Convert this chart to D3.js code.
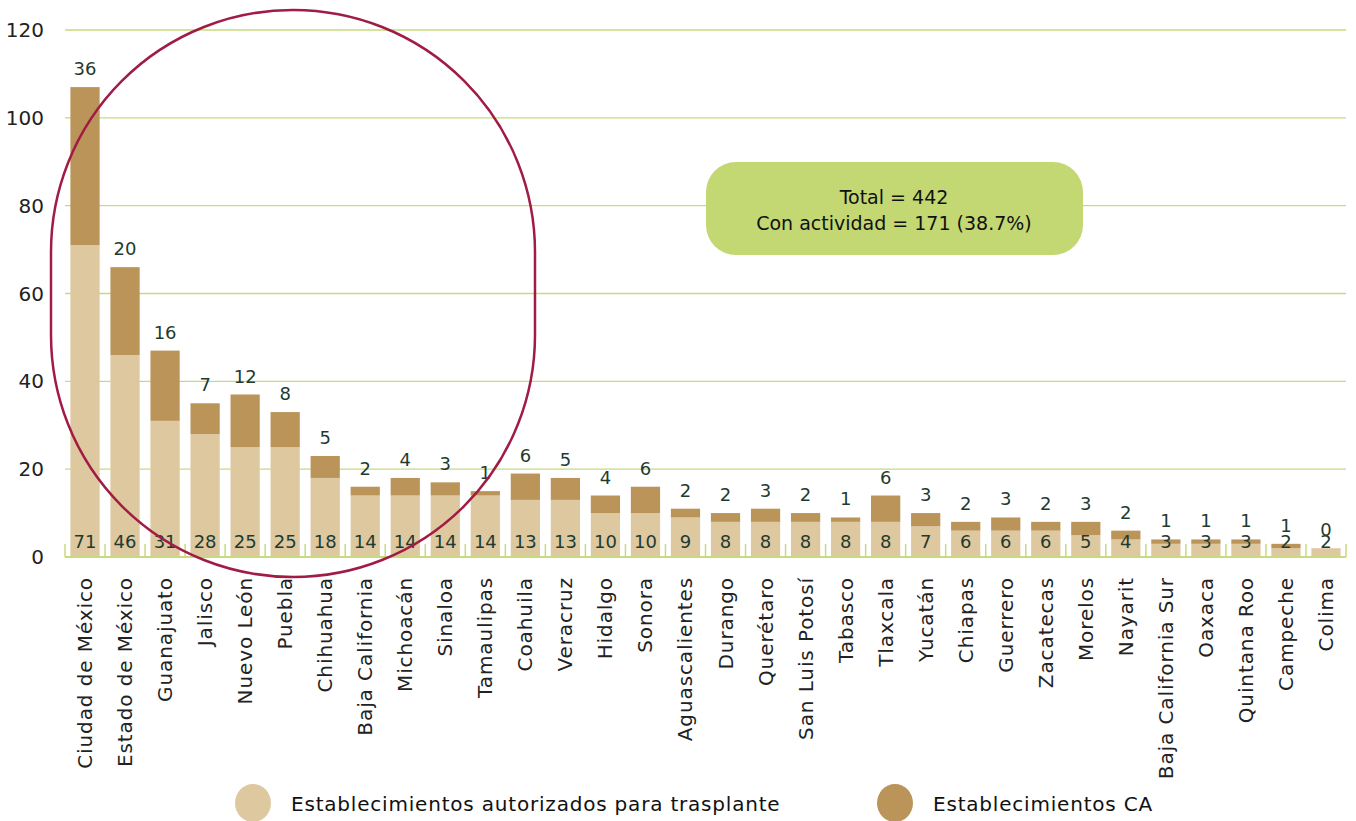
<!DOCTYPE html>
<html>
<head>
<meta charset="utf-8">
<script src="https://cdn.jsdelivr.net/npm/d3@7"></script>
<style>
  body { margin: 0; background: #fff; }
  text { font-family: "DejaVu Sans", "Open Sans", sans-serif; }
</style>
</head>
<body>
<div id="chart"></div>
<script>
// data
var estados = ["Ciudad de México", "Estado de México", "Guanajuato", "Jalisco", "Nuevo León", "Puebla",
  "Chihuahua", "Baja California", "Michoacán", "Sinaloa", "Tamaulipas", "Coahuila", "Veracruz", "Hidalgo",
  "Sonora", "Aguascalientes", "Durango", "Querétaro", "San Luis Potosí", "Tabasco", "Tlaxcala", "Yucatán",
  "Chiapas", "Guerrero", "Zacatecas", "Morelos", "Nayarit", "Baja California Sur", "Oaxaca", "Quintana Roo",
  "Campeche", "Colima"]
var autorizados = [71, 46, 31, 28, 25, 25, 18, 14, 14, 14, 14, 13, 13, 10, 10, 9, 8, 8, 8, 8, 8, 7, 6, 6, 6, 5, 4, 3, 3, 3, 2, 2]
var conCA = [36, 20, 16, 7, 12, 8, 5, 2, 4, 3, 1, 6, 5, 4, 6, 2, 2, 3, 2, 1, 6, 3, 2, 3, 2, 3, 2, 1, 1, 1, 1, 0]
var yTicks = [0, 20, 40, 60, 80, 100, 120]
var series = ["Establecimientos autorizados para trasplante", "Establecimientos CA"]
var notas = ["Total = 442", "Con actividad = 171 (38.7%)"]

var width = 1356
var height = 821
var colorClaro = "#dec8a0"
var colorOscuro = "#bb9459"
var verde = "#c8da7e"
var textoVerde = "#1f3b2f"

var svg = d3.select("#chart")
  .append("svg")
  .attr("width", width)
  .attr("height", height)

var x = d3.scaleBand()
  .domain(estados)
  .range([65, 1346])
  .paddingInner(0.27)
  .paddingOuter(0.135)

var y = d3.scaleLinear()
  .domain([0, 120])
  .range([557, 30])

// gridlines
svg.append("g")
  .selectAll("line")
  .data(yTicks.filter(function (d) { return d > 0 }))
  .enter()
  .append("line")
  .attr("x1", 65).attr("x2", 1346)
  .attr("y1", function (d) { return y(d) }).attr("y2", function (d) { return y(d) })
  .style("stroke", verde).style("stroke-width", 1.3)

// y tick labels
svg.append("g")
  .selectAll("text")
  .data(yTicks)
  .enter()
  .append("text")
  .attr("x", 44)
  .attr("y", function (d) { return y(d) })
  .attr("text-anchor", "end")
  .attr("dominant-baseline", "central")
  .style("font-size", "20px")
  .style("fill", "#222")
  .text(function (d) { return d })

// stacked bars
var barras = svg.append("g")
barras.selectAll("rect.claro")
  .data(estados)
  .enter()
  .append("rect")
  .attr("class", "claro")
  .attr("x", function (d) { return x(d) })
  .attr("width", x.bandwidth())
  .attr("y", function (d, i) { return y(autorizados[i]) })
  .attr("height", function (d, i) { return y(0) - y(autorizados[i]) })
  .style("fill", colorClaro)

barras.selectAll("rect.oscuro")
  .data(estados)
  .enter()
  .append("rect")
  .attr("class", "oscuro")
  .attr("x", function (d) { return x(d) })
  .attr("width", x.bandwidth())
  .attr("y", function (d, i) { return y(autorizados[i] + conCA[i]) })
  .attr("height", function (d, i) { return y(autorizados[i]) - y(autorizados[i] + conCA[i]) })
  .style("fill", colorOscuro)

// baseline and band ticks
svg.append("line")
  .attr("x1", 65).attr("x2", 1346)
  .attr("y1", y(0)).attr("y2", y(0))
  .style("stroke", verde).style("stroke-width", 2)

var bordes = estados.map(function (d) { return x(d) - x.step() * x.paddingInner() / 2 })
bordes.push(x(estados[estados.length - 1]) + x.bandwidth() + x.step() * x.paddingInner() / 2)
svg.append("g")
  .selectAll("line")
  .data(bordes)
  .enter()
  .append("line")
  .attr("x1", function (d) { return d }).attr("x2", function (d) { return d })
  .attr("y1", y(0) - 13).attr("y2", y(0))
  .style("stroke", verde).style("stroke-width", 1.5)

// value labels
svg.append("g")
  .selectAll("text")
  .data(estados)
  .enter()
  .append("text")
  .attr("x", function (d) { return x(d) + x.bandwidth() / 2 })
  .attr("y", y(0) - 9)
  .attr("text-anchor", "middle")
  .style("font-size", "18px")
  .style("fill", textoVerde)
  .text(function (d, i) { return autorizados[i] })

svg.append("g")
  .selectAll("text")
  .data(estados)
  .enter()
  .append("text")
  .attr("x", function (d) { return x(d) + x.bandwidth() / 2 })
  .attr("y", function (d, i) { return y(autorizados[i] + conCA[i]) - 12 })
  .attr("text-anchor", "middle")
  .style("font-size", "18px")
  .style("fill", textoVerde)
  .text(function (d, i) { return conCA[i] })

// category labels, rotated
svg.append("g")
  .selectAll("text")
  .data(estados)
  .enter()
  .append("text")
  .attr("transform", function (d) {
    return "translate(" + (x(d) + x.bandwidth() / 2) + "," + 577 + ") rotate(-90)"
  })
  .attr("text-anchor", "end")
  .attr("dominant-baseline", "central")
  .style("font-size", "20px")
  .style("letter-spacing", "0.9px")
  .style("fill", "#222")
  .text(function (d) { return d })

// red highlight around the top states
svg.append("rect")
  .attr("x", 51).attr("y", 10)
  .attr("width", 484).attr("height", 567)
  .attr("rx", 242).attr("ry", 242)
  .style("fill", "none")
  .style("stroke", "#a01c44")
  .style("stroke-width", 2.5)

// summary box
svg.append("rect")
  .attr("x", 706).attr("y", 162)
  .attr("width", 377).attr("height", 93)
  .attr("rx", 30)
  .style("fill", "#c3d772")
svg.append("g")
  .selectAll("text")
  .data(notas)
  .enter()
  .append("text")
  .attr("x", 894)
  .attr("y", function (d, i) { return 197 + i * 26 })
  .attr("text-anchor", "middle")
  .attr("dominant-baseline", "central")
  .style("font-size", "19px")
  .style("fill", "#111")
  .text(function (d) { return d })

// legend
var leyenda = svg.append("g")
leyenda.selectAll("ellipse")
  .data(series)
  .enter()
  .append("ellipse")
  .attr("cx", function (d, i) { return i == 0 ? 253 : 895 })
  .attr("cy", 803)
  .attr("rx", 18).attr("ry", 19)
  .style("fill", function (d, i) { return i == 0 ? colorClaro : colorOscuro })
leyenda.selectAll("text")
  .data(series)
  .enter()
  .append("text")
  .attr("x", function (d, i) { return i == 0 ? 291 : 933 })
  .attr("y", 804)
  .attr("dominant-baseline", "central")
  .style("font-size", "20px")
  .style("letter-spacing", "0.8px")
  .style("fill", "#111")
  .text(function (d) { return d })
</script>
</body>
</html>
